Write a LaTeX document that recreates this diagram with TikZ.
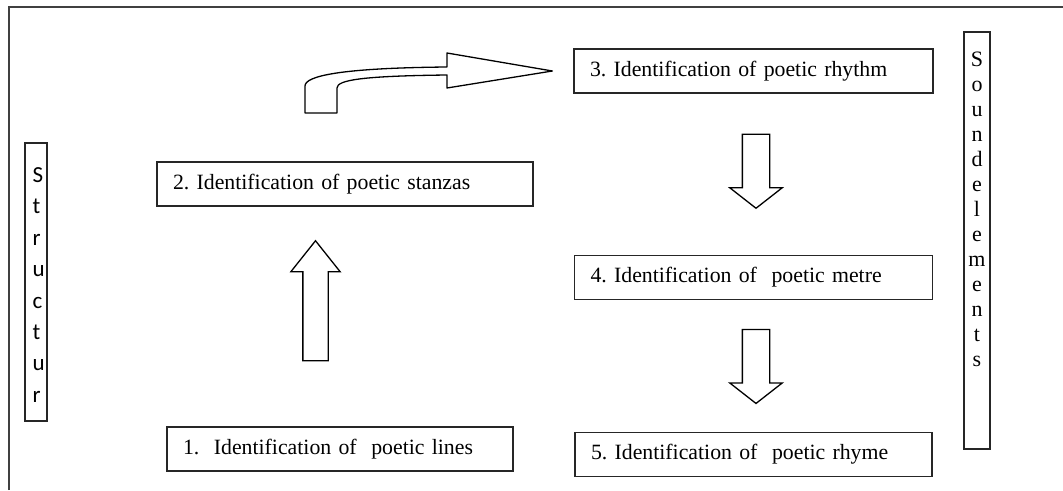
\documentclass[tikz,border=0pt]{standalone}
\usepackage{fontspec}
\setmainfont{Liberation Serif}
\newfontfamily\calibrifont{Carlito}
\usetikzlibrary{positioning, shapes.arrows}
\frenchspacing

\begin{document}
\begin{tikzpicture}[
        x=1pt, y=-1pt,
        stagebox/.style={rectangle, draw=black!85, line width=1.2pt, inner xsep=16pt, inner ysep=0pt,
                        minimum height=44pt, align=left, font=\fontsize{21.8}{26}\selectfont},
        sidebar/.style={rectangle, draw=black!85, line width=1.2pt, inner sep=0pt},
        blockdown/.style={single arrow, draw=black, line width=1.3pt, fill=white, inner sep=13pt,
                        shape border rotate=270, minimum height=74pt, minimum width=51pt,
                        single arrow head extend=12.5pt, single arrow tip angle=104},
        blockup/.style={single arrow, draw=black, line width=1.3pt, fill=white, inner sep=12pt,
                        shape border rotate=90, minimum height=120pt, minimum width=48pt,
                        single arrow head extend=12pt, single arrow tip angle=77},
        bentarrow/.style={draw=black, line width=1.3pt, fill=white, line join=round},
        frameline/.style={draw=black!75, line width=1.6pt}
    ]
        \path[use as bounding box, fill=white] (0,0) rectangle (1063,490);
        \draw[frameline] (9,490) -- (9,7) -- (1063,7);

        \node[stagebox, text width=327pt] (rhythm) at (753.5,71) {3. Identification of poetic rhythm};
        \node[stagebox, text width=326pt, below=161pt of rhythm] (metre) {4. Identification of\ \ poetic metre};
        \node[stagebox, text width=325pt, below=132pt of metre] (rhyme) {5. Identification of\ \ poetic rhyme};

        \node[stagebox, text width=344pt] (stanzas) at (345,184) {2. Identification of poetic stanzas};
        \node[stagebox, text width=314pt] (lines) at (340,449) {1.\ \ Identification of\ \ poetic lines};

        \node[sidebar, minimum width=22pt, minimum height=278pt,
              label={[anchor=north west, xshift=8pt, yshift=-25pt, inner sep=0pt, align=left,
                      font=\calibrifont\fontsize{23}{31.4}\selectfont]north west:S\\t\\r\\u\\c\\t\\u\\r}] (structur) at (36,282) {};
        \node[sidebar, minimum width=26pt, minimum height=417pt,
              label={[anchor=north, yshift=-20pt, inner sep=0pt, align=center,
                      font=\fontsize{22}{25}\selectfont]north:S\\o\\u\\n\\d\\e\\l\\e\\m\\e\\n\\t\\s}] (sound) at (977,240.5) {};

        \node[blockdown, anchor=tail] (rhythmdown) at ([xshift=2.5pt, yshift=-40pt]rhythm.south) {};
        \node[blockdown, anchor=tail] (metredown) at ([xshift=2.5pt, yshift=-29pt]metre.south) {};
        \node[blockup, anchor=tail] (linesup) at ([xshift=-24.5pt, yshift=65pt]lines.north) {};

        \coordinate (bendtip) at ([xshift=-21pt]rhythm.west);
        \draw[bentarrow] (305,113) -- (305,86) .. controls (305,76) and (340,68) .. (447,67)
            -- (447,53) -- (bendtip) -- (447,88) -- (447,75)
            .. controls (362,76) and (337,80) .. (337,88) -- (337,113) -- cycle;
    \end{tikzpicture}
\end{document}
